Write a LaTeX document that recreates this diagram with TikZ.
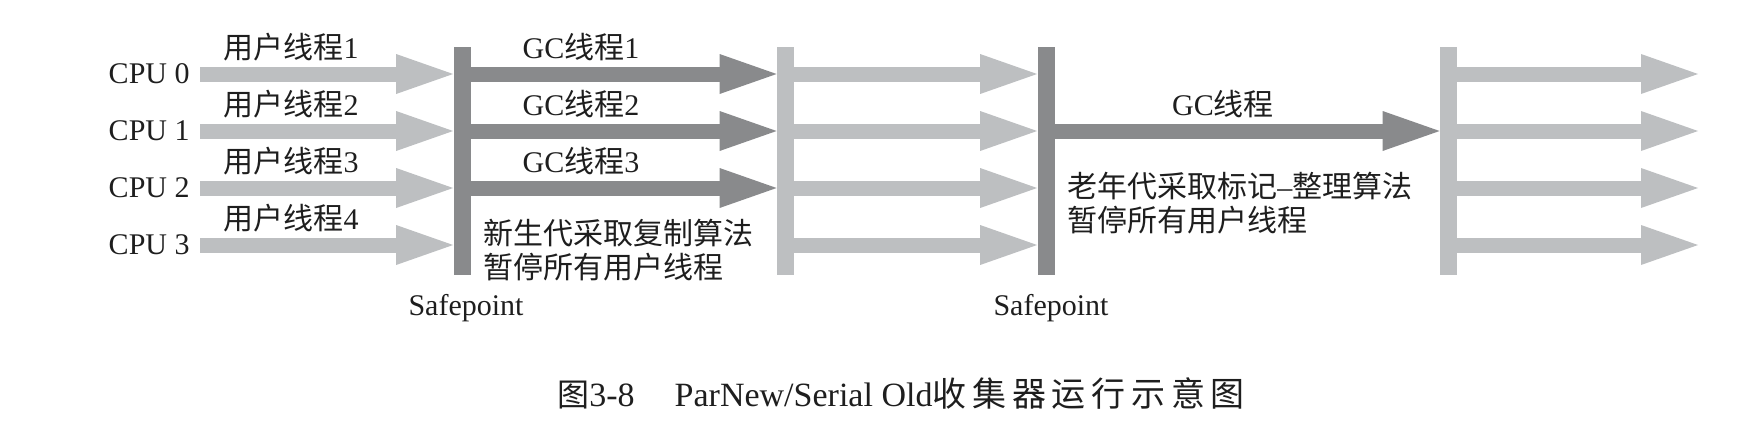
\documentclass[tikz,border=0pt]{standalone}
\usepackage{fontspec}
\setmainfont{Liberation Serif}
\newfontfamily\cjk{Noto Sans CJK SC}
\newfontfamily\capcjk{Noto Sans CJK SC}[LetterSpace=17]
\usetikzlibrary{arrows.meta, positioning}
\definecolor{threadLite}{HTML}{BDBFC1}
\definecolor{threadDark}{HTML}{898A8C}
\definecolor{labelInk}{HTML}{1E1E1E}

\begin{document}
\begin{tikzpicture}[x=0.5pt, y=-0.5pt,
    liteArrow/.style={threadLite, line width=7.5pt,
      -{Triangle[length=28.5pt, width=20pt, line width=0pt]}},
    darkArrow/.style={threadDark, line width=7.5pt,
      -{Triangle[length=28.5pt, width=20pt, line width=0pt]}},
    liteBar/.style={fill=threadLite, inner sep=0pt,
      minimum width=8.5pt, minimum height=114pt},
    darkBar/.style={fill=threadDark, inner sep=0pt,
      minimum width=8.5pt, minimum height=114pt},
    lbl/.style={inner sep=0pt, text=labelInk,
      font=\fontsize{15pt}{17pt}\selectfont}]
        \useasboundingbox (0,0) rectangle (1761,428);

        % CPU rows
        \node[lbl, anchor=east] (cpu0) at (190, 74) {CPU 0};
        \node[lbl, anchor=east] (cpu1) at (190, 131) {CPU 1};
        \node[lbl, anchor=east] (cpu2) at (190, 188) {CPU 2};
        \node[lbl, anchor=east] (cpu3) at (190, 245) {CPU 3};

        % Safepoint bars
        \node[darkBar] (sp1) at (462, 161) {};
        \node[liteBar] (sp2) at (785.5, 161) {};
        \node[darkBar] (sp3) at (1046, 161) {};
        \node[liteBar] (sp4) at (1448.5, 161) {};

        % User threads up to the first safepoint
        \draw[liteArrow] ([xshift=5pt]cpu0.east) -- (cpu0 -| sp1.west);
        \draw[liteArrow] ([xshift=5pt]cpu1.east) -- (cpu1 -| sp1.west);
        \draw[liteArrow] ([xshift=5pt]cpu2.east) -- (cpu2 -| sp1.west);
        \draw[liteArrow] ([xshift=5pt]cpu3.east) -- (cpu3 -| sp1.west);
        \node[lbl] at (291, 47) {{\cjk 用户线程}1};
        \node[lbl] at (291, 104) {{\cjk 用户线程}2};
        \node[lbl] at (291, 161) {{\cjk 用户线程}3};
        \node[lbl] at (291, 218) {{\cjk 用户线程}4};

        % Young generation: parallel GC threads
        \draw[darkArrow] (cpu0 -| sp1.east) -- (cpu0 -| sp2.west);
        \draw[darkArrow] (cpu1 -| sp1.east) -- (cpu1 -| sp2.west);
        \draw[darkArrow] (cpu2 -| sp1.east) -- (cpu2 -| sp2.west);
        \node[lbl] at (581, 47) {GC{\cjk 线程}1};
        \node[lbl] at (581, 104) {GC{\cjk 线程}2};
        \node[lbl] at (581, 161) {GC{\cjk 线程}3};
        \node[lbl, anchor=west, align=left] at (483, 250)
          {{\cjk 新生代采取复制算法}\\{\cjk 暂停所有用户线程}};

        % User threads again
        \draw[liteArrow] (cpu0 -| sp2.east) -- (cpu0 -| sp3.west);
        \draw[liteArrow] (cpu1 -| sp2.east) -- (cpu1 -| sp3.west);
        \draw[liteArrow] (cpu2 -| sp2.east) -- (cpu2 -| sp3.west);
        \draw[liteArrow] (cpu3 -| sp2.east) -- (cpu3 -| sp3.west);

        % Old generation: single GC thread
        \draw[darkArrow] (cpu1 -| sp3.east) -- (cpu1 -| sp4.west);
        \node[lbl] at (1223, 104) {GC{\cjk 线程}};
        \node[lbl, anchor=west, align=left] at (1067, 203.5)
          {{\cjk 老年代采取标记}--{\cjk 整理算法}\\{\cjk 暂停所有用户线程}};

        % User threads resume
        \coordinate (runEnd) at (1698, 161);
        \draw[liteArrow] (cpu0 -| sp4.east) -- (cpu0 -| runEnd);
        \draw[liteArrow] (cpu1 -| sp4.east) -- (cpu1 -| runEnd);
        \draw[liteArrow] (cpu2 -| sp4.east) -- (cpu2 -| runEnd);
        \draw[liteArrow] (cpu3 -| sp4.east) -- (cpu3 -| runEnd);

        \node[lbl, anchor=base] at (466, 315) {Safepoint};
        \node[lbl, anchor=base] at (1051, 315) {Safepoint};

        % Caption
        \node[lbl, anchor=west, font=\fontsize{17pt}{19pt}\selectfont] at (557, 393)
          {{\cjk\fontsize{16pt}{18pt}\selectfont 图}3-8\hspace{20pt}ParNew/Serial Old{\capcjk\fontsize{17pt}{19pt}\selectfont 收集器运行示意图}};
      \end{tikzpicture}
\end{document}
